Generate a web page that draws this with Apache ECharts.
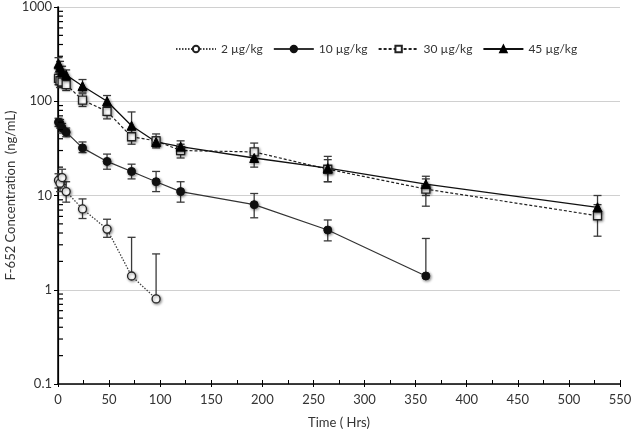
<!DOCTYPE html>
<html><head><meta charset="utf-8">
<script src="https://cdn.jsdelivr.net/npm/echarts@6/dist/echarts.min.js"></script>
<style>html,body{margin:0;padding:0;background:#fff}#c{width:634px;height:436px}</style>
</head><body><div id="c"></div>
<script>
const seriesNames = ['2 µg/kg', '10 µg/kg', '30 µg/kg', '45 µg/kg'];
const xTicks = [0, 50, 100, 150, 200, 250, 300, 350, 400, 450, 500, 550];
const yTicks = [0.1, 1, 10, 100, 1000];

const t2 = [0.5, 2, 4, 8, 24, 48, 72, 96];
const v2 = [14.5, 13.5, 15.5, 11, 7.2, 4.4, 1.4, 0.8];
const lo2 = [12, 11, 13, 8.5, 5.7, 3.6, 1.4, 0.8];
const hi2 = [17, 16, 19, 14, 9.2, 5.6, 3.6, 2.4];

const t10 = [0.5, 2, 4, 8, 24, 48, 72, 96, 120, 192, 264, 360];
const v10 = [60, 58, 52, 47, 32, 23, 18, 14, 11, 8, 4.3, 1.4];
const lo10 = [54, 52, 46, 42, 28.5, 19, 15, 11, 8.5, 5.8, 3.3, 1.4];
const hi10 = [66, 64, 58, 52, 37, 27.5, 21.5, 18, 14, 10.5, 5.5, 3.5];

const t30 = [0.5, 2, 4, 8, 24, 48, 72, 96, 120, 192, 264, 360, 528];
const v30 = [175, 165, 160, 150, 103, 78, 42, 38, 30, 29, 19, 11.7, 6.1];
const lo30 = [150, 140, 140, 130, 88, 65, 35, 33, 25, 24, 14, 7.7, 3.7];
const hi30 = [200, 190, 185, 170, 120, 92, 50, 45, 35, 36, 24, 15, 8];

const t45 = [0.5, 2, 4, 8, 24, 48, 72, 96, 120, 192, 264, 360, 528];
const v45 = [250, 230, 205, 190, 145, 100, 55, 37, 33, 25, 19.5, 13.2, 7.5];
const lo45 = [220, 200, 180, 165, 125, 88, 42, 32, 28, 20, 14, 10, 6];
const hi45 = [290, 265, 235, 215, 170, 115, 77, 42, 38, 30, 26, 16, 10];

const yMinor = [];
[0.1, 1, 10, 100].forEach(d => { for (let k = 2; k <= 9; k++) yMinor.push(+(d * k).toPrecision(3)); });

const FONT = 'Lato, "Open Sans", sans-serif';
const shadow = {shadowBlur: 3, shadowColor: 'rgba(0,0,0,0.45)', shadowOffsetX: 1, shadowOffsetY: 1};

function pts(t, v) { return t.map((x, i) => [x, v[i]]); }
function errs(t, v, lo, hi) { return t.map((x, i) => [x, v[i], lo[i], hi[i]]); }

function errRender(params, api) {
  const x = api.value(0), v = api.value(1), lo = api.value(2), hi = api.value(3);
  const pLo = api.coord([x, lo]), pHi = api.coord([x, hi]);
  const w = 4;
  const st = {stroke: '#3a3a3a', lineWidth: 1.3};
  const ch = [
    {type: 'line', shape: {x1: pLo[0], y1: pLo[1], x2: pHi[0], y2: pHi[1]}, style: st},
    {type: 'line', shape: {x1: pHi[0] - w, y1: pHi[1], x2: pHi[0] + w, y2: pHi[1]}, style: st}
  ];
  if (lo < v) ch.push({type: 'line', shape: {x1: pLo[0] - w, y1: pLo[1], x2: pLo[0] + w, y2: pLo[1]}, style: st});
  return {type: 'group', children: ch};
}

function minorRender(params, api) {
  const x = api.value(0), y = api.value(1);
  const p = api.coord([x, y]);
  return {type: 'group', children: [
    {type: 'line', shape: {x1: p[0], y1: p[1], x2: p[0] + 5, y2: p[1]}, style: {stroke: '#000', lineWidth: 1.2}}
  ]};
}

function errSeries(data) {
  return {type: 'custom', renderItem: errRender, data: data, z: 1, silent: true,
          encode: {x: 0, y: [1, 2, 3]}, clip: false};
}

const option = {
  animation: false,
  textStyle: {fontFamily: FONT},
  grid: {left: 58, right: 14, top: 7, bottom: 52, containLabel: false, outerBoundsMode: 'none'},
  legend: {
    top: 38, left: 170, itemGap: 10, itemWidth: 40, itemHeight: 8,
    textStyle: {fontFamily: FONT, fontSize: 12, color: '#333'},
    data: seriesNames
  },
  xAxis: [{
    type: 'value', min: 0, max: 550, interval: 50,
    name: 'Time ( Hrs)', nameLocation: 'middle', nameGap: 32, nameMoveOverlap: false,
    nameTextStyle: {fontFamily: FONT, fontSize: 13, color: '#333'},
    axisLine: {lineStyle: {color: '#000', width: 1.5}},
    axisTick: {inside: true, length: 4, lineStyle: {color: '#000'}},
    minorTick: {show: true, splitNumber: 2, length: 4, lineStyle: {color: '#000'}},
    axisLabel: {fontFamily: FONT, fontSize: 13, color: '#333', margin: 9,
                formatter: v => xTicks.includes(v) ? String(v) : ''},
    splitLine: {show: false}
  }, {
    type: 'value', min: 0, max: 550, interval: 50, position: 'bottom',
    axisLine: {show: false}, axisLabel: {show: false}, splitLine: {show: false},
    axisTick: {inside: false, length: 3, lineStyle: {color: '#000'}}
  }],
  yAxis: [{
    type: 'log', logBase: 10, min: 0.1, max: 1000,
    name: 'F-652 Concentration  (ng/mL)', nameLocation: 'middle', nameGap: 41, nameMoveOverlap: false,
    nameTextStyle: {fontFamily: FONT, fontSize: 13, color: '#333'},
    axisLine: {show: true, lineStyle: {color: '#000', width: 1.5}},
    axisTick: {show: true, inside: false, length: 4, lineStyle: {color: '#000'}},
    axisLabel: {fontFamily: FONT, fontSize: 13, color: '#333', margin: 6,
                formatter: v => { const r = yTicks.find(t => Math.abs(t - v) / t < 1e-6); return r === undefined ? '' : String(r); }},
    splitLine: {show: true, lineStyle: {color: '#d0d0d0', width: 1}},
    minorTick: {show: false}
  }, {
    type: 'log', logBase: 10, min: 0.1, max: 1000, position: 'right',
    axisLine: {show: true, lineStyle: {color: '#000', width: 1.2}},
    axisTick: {show: false}, axisLabel: {show: false}, splitLine: {show: false}
  }],
  series: [
    {type: 'custom', renderItem: minorRender, data: yMinor.map(v => [0, v, v, v]), silent: true, clip: false, z: 5,
     encode: {x: 0, y: [1, 2, 3]}},
    errSeries(errs(t2, v2, lo2, hi2)),
    errSeries(errs(t10, v10, lo10, hi10)),
    errSeries(errs(t30, v30, lo30, hi30)),
    errSeries(errs(t45, v45, lo45, hi45)),
    {name: seriesNames[0], type: 'line', data: pts(t2, v2), z: 3,
     symbol: 'circle', symbolSize: 8,
     itemStyle: Object.assign({color: '#fff', borderColor: '#222', borderWidth: 1.3}, shadow),
     lineStyle: {color: '#444', width: 1.3, type: [1.5, 1.5]}},
    {name: seriesNames[1], type: 'line', data: pts(t10, v10), z: 3,
     symbol: 'circle', symbolSize: 8,
     itemStyle: Object.assign({color: '#111', borderColor: '#111', borderWidth: 1}, shadow),
     lineStyle: {color: '#333', width: 1.2}},
    {name: seriesNames[2], type: 'line', data: pts(t30, v30), z: 3,
     symbol: 'rect', symbolSize: 8,
     itemStyle: Object.assign({color: '#fff', borderColor: '#222', borderWidth: 1.3}, shadow),
     lineStyle: {color: '#222', width: 1.2, type: [3, 2]}},
    {name: seriesNames[3], type: 'line', data: pts(t45, v45), z: 3,
     symbol: 'triangle', symbolSize: 9,
     itemStyle: Object.assign({color: '#000', borderColor: '#000', borderWidth: 1}, shadow),
     lineStyle: {color: '#111', width: 1.3}}
  ]
};
const chart = echarts.init(document.getElementById('c'));
chart.setOption(option);
</script></body></html>
